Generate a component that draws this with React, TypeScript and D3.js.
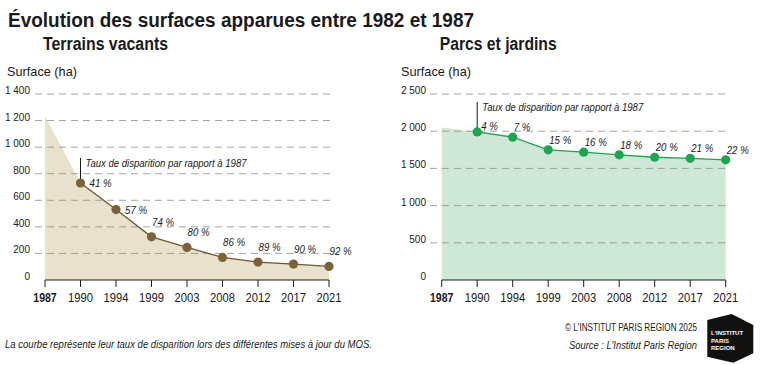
import React, { useEffect, useRef } from 'react';
import * as d3 from 'd3';

// years of the MOS updates (categorical axis)
const years = ['1987', '1990', '1994', '1999', '2003', '2008', '2012', '2017', '2021'];

// Terrains vacants (ha) and disappearance rate vs 1987 (%)
const vacantSurface = [1235, 730, 530, 325, 245, 170, 135, 120, 102];
const vacantRate = [41, 57, 74, 80, 86, 89, 90, 92];
const vacantTicks = [0, 200, 400, 600, 800, 1000, 1200, 1400];

// Parcs et jardins (ha) and disappearance rate vs 1987 (%)
const parksSurface = [2050, 1990, 1920, 1750, 1718, 1682, 1650, 1635, 1615];
const parksRate = [4, 7, 15, 16, 18, 20, 21, 22];
const parksTicks = [0, 500, 1000, 1500, 2000, 2500];

const FONT = "'Liberation Sans', Arial, sans-serif";
const fr = d3.formatLocale({ decimal: ',', thousands: '\u00a0', grouping: [3], currency: ['', ' €'] });
const fmt = fr.format(',d');

type PanelProps = {
  title: string;
  titleW: number;
  surface: number[];
  rates: number[];
  ticks: number[];
  x0: number;
  x1: number;
  labelX: number;
  gridX0: number;
  gridX1: number;
  areaColor: string;
  lineColor: string;
  dotColor: string;
  sideLabels: number;
  labelDx: number;
  labelDy: number;
  noteLen: number;
};

function Panel(p: PanelProps) {
  const x = d3.scalePoint<string>().domain(years).range([p.x0, p.x1]);
  const y = d3.scaleLinear().domain([0, d3.max(p.ticks)!]).range([280, 94]);
  const pts = years.map((yr, i) => ({ yr, v: p.surface[i] }));
  const area = d3
    .area<{ yr: string; v: number }>()
    .x((d) => x(d.yr)!)
    .y0(y(0))
    .y1((d) => y(d.v));
  const line = d3
    .line<{ yr: string; v: number }>()
    .x((d) => x(d.yr)!)
    .y((d) => y(d.v));
  const later = pts.slice(1);
  const first = later[0];
  const fx = x(first.yr)!;
  const fy = y(first.v);

  return (
    <g fontFamily={FONT}>
      <text x={p.x0 - 2} y={50} fontSize={17.5} fontWeight="bold" fill="#1a1a1a" data-w={p.titleW}>
        {p.title}
      </text>
      <path d={area(pts)!} fill={p.areaColor} />
      {p.ticks.map((t) => (
        <g key={t}>
          {t > 0 && (
            <line x1={p.gridX0} x2={p.gridX1} y1={y(t)} y2={y(t)} stroke="#8c8c8c" strokeDasharray="7,5" strokeWidth={0.8} />
          )}
          <text x={p.labelX} y={y(t)} textAnchor="end" fontSize={10} fill="#1a1a1a">
            {fmt(t)}
          </text>
        </g>
      ))}
      <line x1={p.x0} x2={p.x1} y1={280} y2={280} stroke="#1a1a1a" strokeWidth={1.2} />
      {years.map((yr, i) => (
        <g key={yr}>
          <line x1={x(yr)} x2={x(yr)} y1={280} y2={287} stroke="#1a1a1a" strokeWidth={1} />
          <text
            x={x(yr)}
            y={302}
            textAnchor="middle"
            fontSize={13.5}
            fontWeight={i === 0 ? 'bold' : 'normal'}
            fill="#1a1a1a"
            data-k={i === 0 ? 0.78 : 0.83}
          >
            {yr}
          </text>
        </g>
      ))}
      <path d={line(later)!} fill="none" stroke={p.lineColor} strokeWidth={1.3} />
      <line x1={fx} x2={fx} y1={fy - p.noteLen} y2={fy} stroke="#1a1a1a" strokeWidth={1} />
      <text x={fx + 5} y={fy - p.noteLen + 9} fontSize={11} fontStyle="italic" fill="#1a1a1a" data-w={161}>
        Taux de disparition par rapport à 1987
      </text>
      {later.map((d, i) => {
        const cx = x(d.yr)!;
        const cy = y(d.v);
        const side = i < p.sideLabels;
        const firstRight = i === 0 && p.sideLabels === 0;
        return (
          <g key={d.yr}>
            <circle cx={cx} cy={cy} r={4.6} fill={p.dotColor} />
            <text
              x={side ? cx + 9 : firstRight ? cx + 4 : cx + p.labelDx}
              y={side ? cy + 4 : firstRight ? cy - 2 : cy - p.labelDy}
              fontSize={11}
              fontStyle="italic"
              fill="#1a1a1a"
              data-k={0.88}
            >
              {p.rates[i]} %
            </text>
          </g>
        );
      })}
    </g>
  );
}

export default function App() {
  const svgRef = useRef<SVGSVGElement>(null);

  // squeeze the texts so they read like the condensed face of the original
  useEffect(() => {
    d3.select(svgRef.current)
      .selectAll<SVGTextElement, unknown>('text')
      .each(function () {
        const w = this.getAttribute('data-w');
        const k = this.getAttribute('data-k');
        if (!w && !k) return;
        const target = w ? +w : this.getComputedTextLength() * +k!;
        this.setAttribute('textLength', String(target));
        this.setAttribute('lengthAdjust', 'spacingAndGlyphs');
      });
  }, []);

  return (
    <svg ref={svgRef} width={763} height={365} style={{ position: 'absolute', left: 0, top: 0, background: '#fff' }}>
      <rect width={763} height={365} fill="#fff" />
      <text x={8} y={27} fontFamily={FONT} fontSize={20} fontWeight="bold" fill="#1a1a1a" data-w={466}>
        Évolution des surfaces apparues entre 1982 et 1987
      </text>
      <text x={7} y={76} fontFamily={FONT} fontSize={13} fill="#1a1a1a" data-w={70}>
        Surface (ha)
      </text>
      <text x={401} y={76} fontFamily={FONT} fontSize={13} fill="#1a1a1a" data-w={70}>
        Surface (ha)
      </text>
      <Panel
        title="Terrains vacants"
        titleW={125}
        surface={vacantSurface}
        rates={vacantRate}
        ticks={vacantTicks}
        x0={45}
        x1={329}
        labelX={30}
        gridX0={35}
        gridX1={333}
        areaColor="#e9e1cc"
        lineColor="#6e5635"
        dotColor="#7a6239"
        sideLabels={2}
        labelDx={0.5}
        labelDy={11}
        noteLen={25}
      />
      <Panel
        title="Parcs et jardins"
        titleW={117}
        surface={parksSurface}
        rates={parksRate}
        ticks={parksTicks}
        x0={441.7}
        x1={725.7}
        labelX={426}
        gridX0={430}
        gridX1={727}
        areaColor="#cfe7d6"
        lineColor="#25a152"
        dotColor="#1ba64f"
        sideLabels={0}
        labelDx={1}
        labelDy={6}
        noteLen={30}
      />
      <text x={5} y={348} fontFamily={FONT} fontSize={11} fontStyle="italic" fill="#1a1a1a" data-w={367}>
        La courbe représente leur taux de disparition lors des différentes mises à jour du MOS.
      </text>
      <text x={565} y={331} fontFamily={FONT} fontSize={10.5} fill="#1a1a1a" data-w={132}>
        © L'INSTITUT PARIS REGION 2025
      </text>
      <text x={569} y={349} fontFamily={FONT} fontSize={11} fontStyle="italic" fill="#1a1a1a" data-w={128}>
        Source : L'Institut Paris Region
      </text>
      <g fontFamily={FONT} fontWeight="bold">
        <polygon points="707.3,320 731.7,314 753.3,325 753.3,353.3 733.3,362.7 707.3,356.7" fill="#111" />
        <text x={711} y={335} fontSize={6} fill="#fff">
          <tspan x={711}>L'INSTITUT</tspan>
          <tspan x={711} dy={7.5}>
            PARIS
          </tspan>
          <tspan x={711} dy={7}>
            REGION
          </tspan>
        </text>
      </g>
    </svg>
  );
}
